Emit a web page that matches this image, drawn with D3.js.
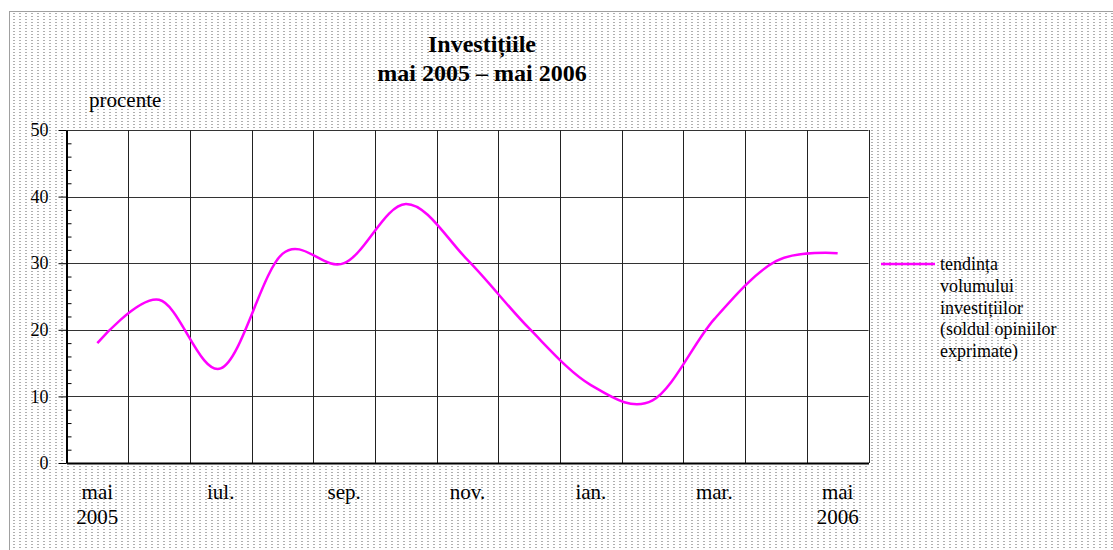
<!DOCTYPE html>
<html>
<head>
<meta charset="utf-8">
<script src="https://cdn.jsdelivr.net/npm/d3@7"></script>
<style>
  body { margin: 0; background: #fff; }
  svg text { font-family: "Liberation Serif", "Times New Roman", serif; fill: #000; }
</style>
</head>
<body>
<div id="chart"></div>
<script>
// luni (categorii) si valorile tendintei
var luni = ["mai|2005", "iun.", "iul.", "aug.", "sep.", "oct.", "nov.", "dec.", "ian.", "feb.", "mar.", "apr.", "mai|2006"];
var tendinta = [18, 24.5, 14.2, 31.4, 30, 38.9, 30.5, 20.2, 11.7, 9.4, 21.6, 30.3, 31.5];
var yTicks = [0, 10, 20, 30, 40, 50];
var yMinor = [2, 4, 6, 8, 12, 14, 16, 18, 22, 24, 26, 28, 32, 34, 36, 38, 42, 44, 46, 48];
var titlu = ["Investițiile", "mai 2005 – mai 2006"];
var legenda = ["tendința", "volumului", "investițiilor", "(soldul opiniilor", "exprimate)"];

var WIDTH = 1113, HEIGHT = 550;
var PLOT = { LEFT: 66.5, RIGHT: 868.5, TOP: 130, BOTTOM: 463 };

var svg = d3.select("#chart").append("svg")
  .attr("width", WIDTH)
  .attr("height", HEIGHT);

// fundal punctat
var pat = svg.append("defs").append("pattern")
  .attr("id", "dots")
  .attr("patternUnits", "userSpaceOnUse")
  .attr("width", 6).attr("height", 3);
pat.append("rect").attr("x", 1).attr("y", 1).attr("width", 2).attr("height", 1).attr("fill", "#b0b0b0");

svg.append("rect")
  .attr("x", 9.5).attr("y", 11.5)
  .attr("width", WIDTH).attr("height", HEIGHT)
  .attr("fill", "url(#dots)")
  .attr("stroke", "#a0a0a0");

var x = d3.scaleBand().domain(luni).range([PLOT.LEFT, PLOT.RIGHT]);
var y = d3.scaleLinear().domain([0, 50]).range([PLOT.BOTTOM, PLOT.TOP]);

svg.append("rect")
  .attr("x", PLOT.LEFT).attr("y", PLOT.TOP)
  .attr("width", PLOT.RIGHT - PLOT.LEFT).attr("height", PLOT.BOTTOM - PLOT.TOP)
  .attr("fill", "#fff");

// grila
svg.append("g").selectAll("line")
  .data(yTicks.slice(1))
  .join("line")
  .attr("x1", PLOT.LEFT).attr("x2", PLOT.RIGHT)
  .attr("y1", d => Math.round(y(d)) + 0.5).attr("y2", d => Math.round(y(d)) + 0.5)
  .attr("stroke", "#333");

svg.append("g").selectAll("line")
  .data(d3.range(1, luni.length + 1))
  .join("line")
  .attr("x1", i => Math.round(PLOT.LEFT + x.step() * i) + 0.5)
  .attr("x2", i => Math.round(PLOT.LEFT + x.step() * i) + 0.5)
  .attr("y1", PLOT.TOP).attr("y2", PLOT.BOTTOM)
  .attr("stroke", "#222");

// axa y
var yAxis = svg.append("g")
  .attr("transform", "translate(" + PLOT.LEFT + ",0)")
  .call(d3.axisLeft(y).tickValues(yTicks).tickSize(8).tickSizeOuter(0).tickPadding(10));
yAxis.select(".domain").attr("stroke-width", 2);
yAxis.selectAll("text").attr("font-size", 18);

svg.append("g")
  .attr("transform", "translate(" + PLOT.LEFT + ",0)")
  .call(d3.axisRight(y).tickValues(yMinor).tickSize(5).tickFormat(""))
  .call(g => g.select(".domain").remove());

// axa x
var xAxis = svg.append("g")
  .attr("transform", "translate(0," + PLOT.BOTTOM + ")")
  .call(d3.axisBottom(x).tickValues(luni.filter((d, i) => i % 2 == 0)).tickSize(0).tickSizeOuter(0).tickFormat(""));
xAxis.select(".domain").attr("stroke-width", 2);
xAxis.selectAll(".tick").append("text")
  .attr("font-size", 21)
  .attr("text-anchor", "middle")
  .selectAll("tspan")
  .data(d => d.split("|"))
  .join("tspan")
  .attr("x", 0)
  .attr("y", (d, i) => 36 + i * 25)
  .text(d => d);

// linia
var line = d3.line()
  .x((d, i) => x(luni[i]) + x.bandwidth() / 2)
  .y(d => y(d))
  .curve(d3.curveCardinal.tension(0));

svg.append("path")
  .datum(tendinta)
  .attr("fill", "none")
  .attr("stroke", "#ff00ff")
  .attr("stroke-width", 2.5)
  .attr("d", line);

// titlu
svg.append("text")
  .attr("text-anchor", "middle")
  .attr("font-weight", "bold")
  .attr("font-size", 24)
  .selectAll("tspan")
  .data(titlu)
  .join("tspan")
  .attr("x", 482)
  .attr("y", (d, i) => 52 + i * 29)
  .text(d => d);

svg.append("text")
  .attr("x", 89).attr("y", 107)
  .attr("font-size", 21)
  .text("procente");

// legenda
svg.append("line")
  .attr("x1", 881).attr("x2", 935)
  .attr("y1", 264).attr("y2", 264)
  .attr("stroke", "#ff00ff")
  .attr("stroke-width", 2.5);

svg.append("text")
  .attr("font-size", 18)
  .selectAll("tspan")
  .data(legenda)
  .join("tspan")
  .attr("x", 940)
  .attr("y", (d, i) => 270 + i * 21.8)
  .text(d => d);
</script>
</body>
</html>
